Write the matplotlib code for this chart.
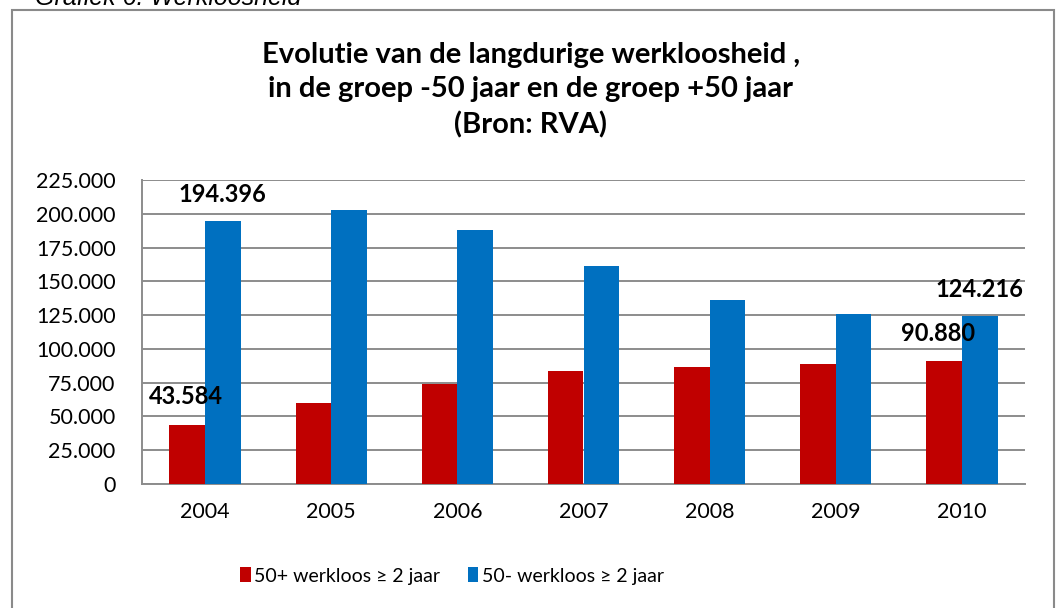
import matplotlib.pyplot as plt
from matplotlib.patches import Rectangle
import numpy as np

plt.rcParams['font.family'] = ['Lato', 'DejaVu Sans']

years = ['2004', '2005', '2006', '2007', '2008', '2009', '2010']
plus50 = [43584, 60200, 74300, 83900, 86300, 88500, 90880]
min50 = [194396, 203100, 187900, 161300, 136500, 125900, 124216]

W, H = 1059, 608
fig = plt.figure(figsize=(W / 100, H / 100), dpi=100)

# outer chart frame
fig.patches.append(Rectangle((12 / W, -0.05), (1054 - 12) / W, 1 - 10 / H + 0.05,
                             transform=fig.transFigure, fill=False,
                             edgecolor='#8a8a8a', lw=1.5))
# caption above the chart, cut off at the top as in the original
fig.text(35 / W, 1 - 5 / H, 'Grafiek 6: Werkloosheid', family='Liberation Sans',
         style='italic', fontsize=18, va='baseline', ha='left')

ax = fig.add_axes([142 / W, 1 - 484 / H, (1025 - 142) / W, (484 - 180) / H])
x = np.arange(len(years))
w = 0.283
ax.bar(x - w / 2, plus50, w, color='#C00000', label='50+ werkloos ≥ 2 jaar', zorder=3)
ax.bar(x + w / 2, min50, w, color='#0070C0', label='50- werkloos ≥ 2 jaar', zorder=3)

ax.set_xlim(-0.5, len(years) - 0.5)
ax.set_ylim(0, 225000)
ax.set_yticks(np.arange(0, 225001, 25000))
ax.set_yticklabels(['0'] + [f'{v // 1000}.000' for v in range(25000, 225001, 25000)])
ax.set_xticks(x)
ax.set_xticklabels(years)
ax.tick_params(length=0, labelsize=15.5, pad=13)
ax.tick_params(axis='y', pad=19)
ax.yaxis.grid(True, color='#8c8c8c', lw=1.4, zorder=0)
for s in ['top', 'right']:
    ax.spines[s].set_visible(False)
for s in ['left', 'bottom']:
    ax.spines[s].set_color('#8c8c8c')
    ax.spines[s].set_linewidth(1.4)

# data labels, placed as in the original
lab = dict(fontsize=17, fontweight='bold', ha='center', va='center', zorder=5)
ax.text(0.135, 213900, '194.396', **lab)
ax.text(-0.15, 64400, '43.584', **lab)
ax.text(6.14, 143600, '124.216', **lab)
ax.text(5.81, 111700, '90.880', **lab)

fig.text(531 / W, 1 - 90 / H,
         'Evolutie van de langdurige werkloosheid ,\nin de groep -50 jaar en de groep +50 jaar\n(Bron: RVA)',
         ha='center', va='center', fontsize=21, fontweight='bold', linespacing=1.4)

fig.legend(loc='center', bbox_to_anchor=(452 / W, 1 - 576 / H), ncol=2, frameon=False,
           fontsize=14, handlelength=0.55, handleheight=0.8, handletextpad=0.2,
           columnspacing=1.4)

fig.savefig('out.png', dpi=100)
